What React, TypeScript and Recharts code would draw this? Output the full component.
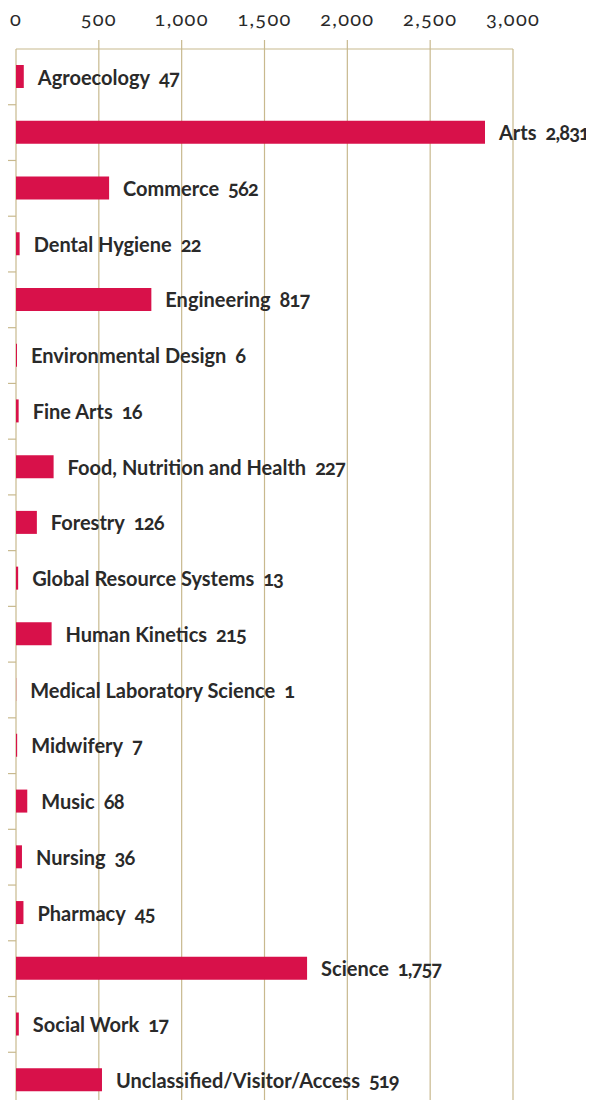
import React from "react";
import { BarChart, Bar, XAxis, YAxis, CartesianGrid, LabelList } from "recharts";

const categories = [
  "Agroecology",
  "Arts",
  "Commerce",
  "Dental Hygiene",
  "Engineering",
  "Environmental Design",
  "Fine Arts",
  "Food, Nutrition and Health",
  "Forestry",
  "Global Resource Systems",
  "Human Kinetics",
  "Medical Laboratory Science",
  "Midwifery",
  "Music",
  "Nursing",
  "Pharmacy",
  "Science",
  "Social Work",
  "Unclassified/Visitor/Access",
];
const values = [47, 2831, 562, 22, 817, 6, 16, 227, 126, 13, 215, 1, 7, 68, 36, 45, 1757, 17, 519];
const xTicks = [0, 500, 1000, 1500, 2000, 2500, 3000];

const data = categories.map((name, i) => ({ name, value: values[i] }));

const BAR = "#d8114a";
const GRID = "#c8b98e";
const TEXT = "#2a2a2a";

const W = 594;
const H = 1108;
const TOP = 49;
const LEFT = 16;
const RIGHT = 81;
const band = (H - TOP) / categories.length;

const fmt = (v: number) => v.toLocaleString("en-US");

const XTick = (props: any) => {
  const { x, payload } = props;
  const v = payload.value;
  const inner = v !== 0 && v !== 3000;
  return (
    <g>
      {inner && <line x1={x} x2={x} y1={TOP - 9} y2={TOP} stroke={GRID} strokeWidth={1.2} />}
      <text
        x={x}
        y={26}
        textAnchor="middle"
        fontFamily="Lato, 'Open Sans', sans-serif"
        fontWeight={400}
        fontSize={20}
        letterSpacing={1.3}
        fill="#2a2a2a"
        style={{ fontVariantNumeric: "oldstyle-nums" }}
      >
        {fmt(v)}
      </text>
    </g>
  );
};

const YTick = (props: any) => {
  const { y, index } = props;
  if (index === 0) return <g />;
  const yy = y - band / 2;
  return <line x1={LEFT - 11} x2={LEFT} y1={yy} y2={yy} stroke={GRID} strokeWidth={1.2} />;
};

const BarLabel = (props: any) => {
  const { x, y, width, height, index } = props;
  const d = data[index];
  return (
    <text
      x={x + width + 14}
      y={y + height / 2}
      dominantBaseline="central"
      fontFamily="Lato, 'Open Sans', sans-serif"
      fontWeight={700}
      fontSize={20}
      fill={TEXT}
    >
      <tspan>{d.name}</tspan>
      <tspan dx={9} letterSpacing={-0.9} style={{ fontVariantNumeric: "oldstyle-nums" }}>
        {fmt(d.value)}
      </tspan>
    </text>
  );
};

export default function App() {
  return (
    <div style={{ margin: -8, width: W, height: H, background: "#fff" }}>
      <BarChart
        width={W}
        height={H}
        data={data}
        layout="vertical"
        margin={{ top: 0, right: RIGHT, bottom: 0, left: 0 }}
        barCategoryGap={0}
      >
        <CartesianGrid horizontal={false} vertical stroke={GRID} strokeWidth={1.2} />
        <XAxis
          type="number"
          orientation="top"
          domain={[0, 3000]}
          ticks={xTicks}
          height={TOP}
          axisLine={{ stroke: GRID, strokeWidth: 1.2 }}
          tickLine={false}
          tick={<XTick />}
          interval={0}
        />
        <YAxis
          type="category"
          dataKey="name"
          width={LEFT}
          axisLine={false}
          tickLine={false}
          tick={<YTick />}
          interval={0}
        />
        <Bar dataKey="value" fill={BAR} barSize={23} isAnimationActive={false}>
          <LabelList dataKey="value" content={<BarLabel />} />
        </Bar>
      </BarChart>
    </div>
  );
}
